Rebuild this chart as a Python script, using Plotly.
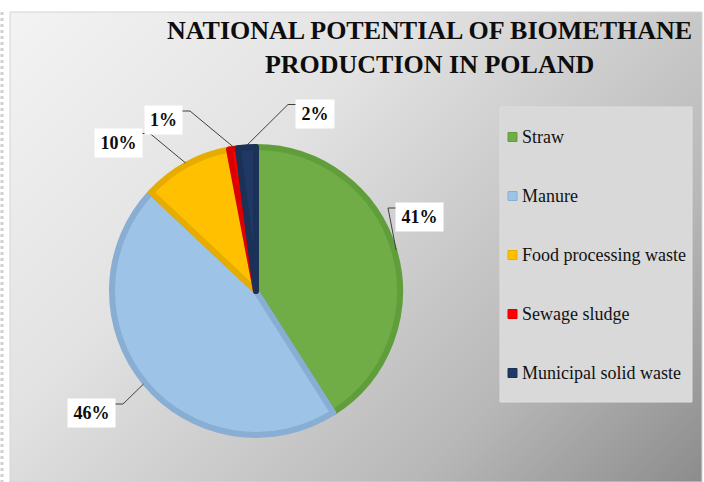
import base64
import math
import plotly.graph_objects as go

# ---- data ----
categories = ["Straw", "Manure", "Food processing waste", "Sewage sludge", "Municipal solid waste"]
shares = [41, 46, 10, 1, 2]
title_lines = ["NATIONAL POTENTIAL OF BIOMETHANE", "PRODUCTION IN POLAND"]

# ---- styles / layout ----
fill_colors = ["#70AD47", "#9DC3E6", "#FFC000", "#FF0000", "#203864"]
edge_colors = ["#5F9E3A", "#88AED4", "#E6AD00", "#DD0000", "#1B3158"]
W, H = 704, 482
CX, CY, R = 256, 291, 144          # pie centre / radius (px)
LINE_W = 6
# label box centres and widths (px), one per slice
label_pos = [(419.5, 217, 47), (91.5, 413, 47), (118.5, 142.5, 47), (163.5, 120, 37), (315, 113.5, 38)]
BOX_H = 28
SERIF = "Liberation Serif"


def px(x):
    return x / W


def py(y):
    return 1 - y / H


fig = go.Figure()
fig.add_trace(go.Pie(
    labels=categories,
    values=shares,
    sort=False,
    direction="clockwise",
    rotation=0,
    textinfo="none",
    showlegend=False,
    marker=dict(colors=fill_colors, line=dict(color=edge_colors, width=LINE_W)),
    domain=dict(x=[px(CX - R), px(CX + R)], y=[py(CY + R), py(CY - R)]),
    hovertemplate="%{label}: %{percent}<extra></extra>",
))

shapes = []
annotations = []

# background gradient panel
PX0, PY0, PX1, PY1 = 10, 12, 702, 482
pw, ph = PX1 - PX0, PY1 - PY0
d = (pw + ph) / 2
svg = (
    f'<svg xmlns="http://www.w3.org/2000/svg" width="{pw}" height="{ph}" viewBox="0 0 {pw} {ph}" preserveAspectRatio="none">'
    f'<defs><linearGradient id="g" gradientUnits="userSpaceOnUse" x1="0" y1="0" x2="{d}" y2="{d}">'
    '<stop offset="0" stop-color="#f3f3f3"/>'
    '<stop offset="0.35" stop-color="#e2e2e2"/>'
    '<stop offset="0.55" stop-color="#cdcdcd"/>'
    '<stop offset="0.75" stop-color="#b8b8b8"/>'
    '<stop offset="1" stop-color="#8c8c8c"/>'
    '</linearGradient></defs>'
    f'<rect width="{pw}" height="{ph}" fill="url(#g)"/></svg>'
)
src = "data:image/svg+xml;base64," + base64.b64encode(svg.encode()).decode()
images = [dict(source=src, xref="paper", yref="paper", x=px(PX0), y=py(PY0),
               sizex=pw / W, sizey=ph / H, xanchor="left", yanchor="top",
               sizing="stretch", layer="below")]

shapes.append(dict(type="rect", xref="paper", yref="paper", x0=px(PX0), y0=py(PY1), x1=px(PX1), y1=py(PY0),
                   line=dict(color="#d4d4d4", width=1), fillcolor="rgba(0,0,0,0)"))
shapes.append(dict(type="line", xref="paper", yref="paper", x0=px(2), y0=py(PY0), x1=px(2), y1=py(PY1),
                   line=dict(color="#d0d0d0", width=3, dash="dot")))

# data labels with leader lines
total = sum(shares)
cum = 0
for i, v in enumerate(shares):
    mid = (cum + v / 2) / total
    cum += v
    th = 2 * math.pi * mid
    ex = CX + (R + 2) * math.sin(th)
    ey = CY - (R + 2) * math.cos(th)
    bx, by, bw = label_pos[i]
    ay = by - BOX_H / 2 + 5
    if bx > ex:
        ax = bx - bw / 2
        elx = ax - 8
    else:
        ax = bx + bw / 2
        elx = ax + 8
    path = f"M {px(ex)},{py(ey)} L {px(elx)},{py(ay)} L {px(ax)},{py(ay)}"
    shapes.append(dict(type="path", xref="paper", yref="paper", path=path,
                       line=dict(color="#404040", width=1)))
    annotations.append(dict(
        x=px(bx), y=py(by), xref="paper", yref="paper", xanchor="center", yanchor="middle",
        text=f"<b>{v / total * 100:.0f}%</b>", showarrow=False, width=bw, height=BOX_H,
        bgcolor="#ffffff", borderpad=0, align="center",
        font=dict(family=SERIF, size=18, color="#0d0d0d"),
    ))

# custom legend
LX0, LY0, LX1, LY1 = 500, 107, 692, 402
shapes.append(dict(type="rect", xref="paper", yref="paper", x0=px(LX0), y0=py(LY1), x1=px(LX1), y1=py(LY0),
                   line=dict(color="#dedede", width=1), fillcolor="#d9d9d9"))
for i, cat in enumerate(categories):
    iy = 137 + i * 59
    shapes.append(dict(type="rect", xref="paper", yref="paper",
                       x0=px(508), x1=px(517), y0=py(iy + 4.5), y1=py(iy - 4.5),
                       fillcolor=fill_colors[i], line=dict(color=edge_colors[i], width=1)))
    annotations.append(dict(
        x=px(520), y=py(iy), xref="paper", yref="paper", xanchor="left", yanchor="middle",
        text=cat, showarrow=False, font=dict(family=SERIF, size=18, color="#111111"),
    ))

# title
annotations.append(dict(
    x=px(429), y=py(48), xref="paper", yref="paper", xanchor="center", yanchor="middle",
    text="<b>" + title_lines[0] + "</b><br><b>" + title_lines[1] + "</b>",
    showarrow=False, align="center",
    font=dict(family=SERIF, size=26, color="#0d0d0d"),
))

fig.update_layout(
    width=W, height=H,
    margin=dict(l=0, r=0, t=0, b=0),
    paper_bgcolor="#ffffff",
    plot_bgcolor="rgba(0,0,0,0)",
    images=images,
    shapes=shapes,
    annotations=annotations,
)

fig.write_html("out.html", config={"displayModeBar": False},
               post_script="document.body.style.margin='0';")
